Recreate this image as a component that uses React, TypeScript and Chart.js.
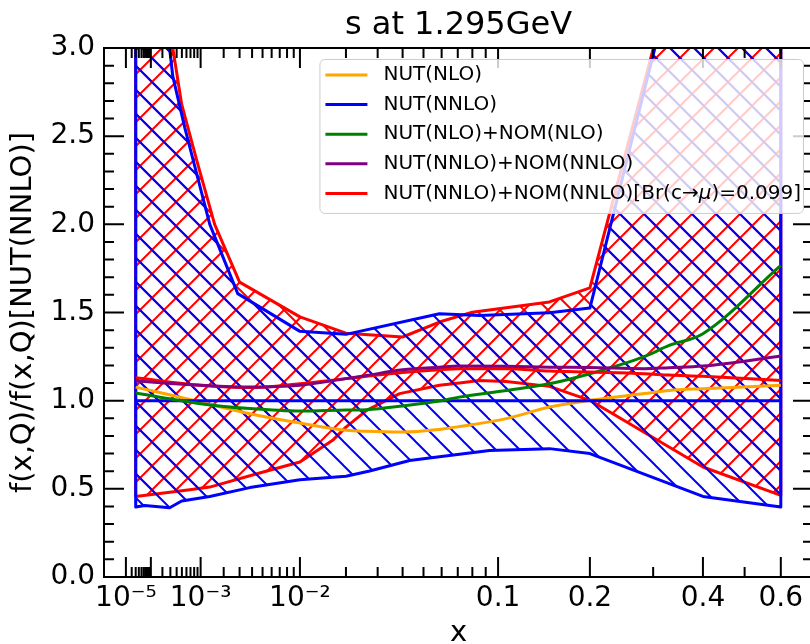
import React, { useEffect, useRef } from 'react';
import { Chart, registerables, LinearScale } from 'chart.js';

Chart.register(...registerables);

// ---------- data ----------
const TITLE = 's at 1.295GeV';
const X_TITLE = 'x';
const Y_TITLE = 'f(x,Q)/f(x,Q)[NUT(NNLO)]';

const SERIES_LABELS = [
  'NUT(NLO)',
  'NUT(NNLO)',
  'NUT(NLO)+NOM(NLO)',
  'NUT(NNLO)+NOM(NNLO)',
  'NUT(NNLO)+NOM(NNLO)[Br(c→μ)=0.099]',
];
const SERIES_COLORS = ['#FFA500', '#0000FF', '#008000', '#800080', '#FF0000'];

// x grid of the central curves
const CENTER_X = [3e-5, 1e-3, 3.8e-3, 0.01, 0.02, 0.0262, 0.04, 0.0587, 0.0711, 0.107, 0.15, 0.2, 0.284, 0.33, 0.4, 0.6];
const NUT_NLO = [1.077, 0.992, 0.926, 0.873, 0.832, 0.826, 0.822, 0.837, 0.853, 0.898, 0.964, 1.002, 1.04, 1.058, 1.068, 1.087];
const NUT_NNLO = [1, 1, 1, 1, 1, 1, 1, 1, 1, 1, 1, 1, 1, 1, 1, 1];
const NUT_NLO_NOM_NLO = [1.043, 0.983, 0.955, 0.941, 0.947, 0.949, 0.97, 0.998, 1.02, 1.058, 1.096, 1.153, 1.25, 1.313, 1.38, 1.767];
const NUT_NNLO_NOM_NNLO = [1.111, 1.087, 1.077, 1.087, 1.125, 1.143, 1.175, 1.19, 1.196, 1.195, 1.19, 1.188, 1.181, 1.187, 1.196, 1.253];
const NUT_NNLO_NOM_NNLO_BR = [1.13, 1.087, 1.074, 1.096, 1.125, 1.138, 1.16, 1.176, 1.181, 1.181, 1.168, 1.162, 1.153, 1.145, 1.138, 1.115];

// NUT(NNLO) uncertainty band (blue)
const BLUE_UP_X = [3e-5, 6.5e-5, 1.7e-4, 3.36e-4, 5.6e-4, 1.34e-3, 2.87e-3, 0.01, 0.02, 0.0587, 0.0852, 0.15, 0.2, 0.4, 0.6];
const BLUE_UP_Y = [5.0, 4.6, 3.5, 2.84, 2.55, 2.0, 1.607, 1.393, 1.376, 1.493, 1.483, 1.499, 1.525, 4.09, 5.5];
const BLUE_LO_X = [3e-5, 6.5e-5, 2.9e-4, 4.96e-4, 1.34e-3, 3.8e-3, 0.01, 0.02, 0.0272, 0.0432, 0.0587, 0.093, 0.15, 0.2, 0.4, 0.6];
const BLUE_LO_Y = [0.397, 0.406, 0.393, 0.431, 0.457, 0.507, 0.552, 0.571, 0.601, 0.661, 0.682, 0.718, 0.728, 0.7, 0.457, 0.397];

// NUT(NNLO)+NOM(NNLO)[Br] uncertainty band (red)
const RED_UP_X = [3e-5, 6.5e-5, 1.73e-4, 3.36e-4, 4.96e-4, 8.8e-4, 1.55e-3, 3.0e-3, 0.01, 0.02, 0.04, 0.0587, 0.08, 0.15, 0.2, 0.4, 0.6];
const RED_UP_Y = [5.5, 5.0, 3.6, 3.0, 2.68, 2.36, 2.0, 1.672, 1.475, 1.383, 1.361, 1.446, 1.502, 1.56, 1.64, 4.06, 5.5];
const RED_LO_X = [3e-5, 1.73e-4, 6.8e-4, 1.34e-3, 4.7e-3, 0.01, 0.0166, 0.02, 0.0262, 0.0387, 0.0587, 0.0711, 0.0852, 0.107, 0.15, 0.2, 0.4, 0.6];
const RED_LO_Y = [0.457, 0.473, 0.495, 0.51, 0.59, 0.652, 0.775, 0.85, 0.945, 1.04, 1.087, 1.1, 1.115, 1.109, 1.081, 1.002, 0.624, 0.463];

// axes
const X_MIN = 1e-8;
const X_MAX = 0.7;
const X_LABEL_VALUES = [1e-5, 1e-3, 1e-2, 0.1, 0.2, 0.4, 0.6];
const X_LABEL_TEXT = ['10⁻⁵', '10⁻³', '10⁻²', '0.1', '0.2', '0.4', '0.6'];
const X_MAJOR = [1e-5, 1e-4, 1e-3, 1e-2, 0.1, 0.2, 0.4, 0.6];
const X_MINOR = [
  2e-5, 3e-5, 4e-5, 5e-5, 6e-5, 7e-5, 8e-5, 9e-5,
  2e-4, 3e-4, 4e-4, 5e-4, 6e-4, 7e-4, 8e-4, 9e-4,
  2e-3, 3e-3, 4e-3, 5e-3, 6e-3, 7e-3, 8e-3, 9e-3,
  0.02, 0.03, 0.04, 0.05, 0.06, 0.07, 0.08, 0.09,
  0.3, 0.5,
];
const Y_MIN = 0;
const Y_MAX = 3;
const Y_MAJOR = [0, 0.5, 1.0, 1.5, 2.0, 2.5, 3.0];
const Y_MINOR = [0.1, 0.2, 0.3, 0.4, 0.6, 0.7, 0.8, 0.9, 1.1, 1.2, 1.3, 1.4, 1.6, 1.7, 1.8, 1.9, 2.1, 2.2, 2.3, 2.4, 2.6, 2.7, 2.8, 2.9];

// ---------- scale: x^0.3 axis ----------
const POWER = 0.3;
class PowerScale extends LinearScale {
  static id = 'power';
  buildTicks() {
    return X_LABEL_VALUES.map((value) => ({ value }));
  }
  getPixelForValue(value: number) {
    const t0 = Math.pow(this.min, POWER);
    const t1 = Math.pow(this.max, POWER);
    const t = Math.pow(Math.max(value, 0), POWER);
    return this.getPixelForDecimal((t - t0) / (t1 - t0));
  }
  getValueForPixel(pixel: number) {
    const t0 = Math.pow(this.min, POWER);
    const t1 = Math.pow(this.max, POWER);
    const t = t0 + this.getDecimalForPixel(pixel) * (t1 - t0);
    return Math.pow(Math.max(t, 0), 1 / POWER);
  }
}
Chart.register(PowerScale as any);

const FONT = "'DejaVu Sans'";
Chart.defaults.font.family = FONT;
Chart.defaults.color = '#000';

function makeHatch(ctx: CanvasRenderingContext2D, color: string, dirs: string[]) {
  const s = 24;
  const tile = document.createElement('canvas');
  tile.width = s;
  tile.height = s;
  const g = tile.getContext('2d')!;
  g.strokeStyle = color;
  g.lineWidth = 2;
  for (const d of dirs) {
    for (const k of [-s, 0, s]) {
      g.beginPath();
      if (d === '\\') {
        g.moveTo(-3, -3 + k);
        g.lineTo(s + 3, s + 3 + k);
      } else {
        g.moveTo(-3, s + 3 + k);
        g.lineTo(s + 3, -3 + k);
      }
      g.stroke();
    }
  }
  const p = ctx.createPattern(tile, 'repeat')!;
  try {
    p.setTransform(new DOMMatrix([1, 0, 0, 1, 8, 10]));
  } catch (e) {}
  return p;
}

function band(ux: number[], uy: number[], lx: number[], ly: number[]) {
  const pts = ux.map((x, i) => ({ x, y: uy[i] }));
  for (let i = lx.length - 1; i >= 0; i--) pts.push({ x: lx[i], y: ly[i] });
  pts.push({ x: ux[0], y: uy[0] });
  return pts;
}

function curve(ys: number[]) {
  return CENTER_X.map((x, i) => ({ x, y: ys[i] }));
}

const framePlugin = {
  id: 'frameTicks',
  afterDatasetsDraw(chart: any) {
    const { ctx, chartArea: a, scales } = chart;
    const xs = scales.x;
    const ys = scales.y;
    ctx.save();
    ctx.strokeStyle = '#000';
    ctx.lineWidth = 2;
    ctx.beginPath();
    const tick = (x1: number, y1: number, x2: number, y2: number) => {
      ctx.moveTo(x1, y1);
      ctx.lineTo(x2, y2);
    };
    X_MAJOR.forEach((v) => {
      const p = xs.getPixelForValue(v);
      tick(p, a.bottom, p, a.bottom - 20);
      tick(p, a.top, p, a.top + 20);
    });
    X_MINOR.forEach((v) => {
      const p = xs.getPixelForValue(v);
      tick(p, a.bottom, p, a.bottom - 10);
      tick(p, a.top, p, a.top + 10);
    });
    Y_MAJOR.forEach((v) => {
      const p = ys.getPixelForValue(v);
      tick(a.left, p, a.left + 20, p);
      tick(a.right, p, a.right - 20, p);
    });
    Y_MINOR.forEach((v) => {
      const p = ys.getPixelForValue(v);
      tick(a.left, p, a.left + 10, p);
      tick(a.right, p, a.right - 10, p);
    });
    ctx.stroke();
    ctx.strokeRect(a.left, a.top, a.right - a.left, a.bottom - a.top);
    ctx.restore();
  },
};

const legendPlugin = {
  id: 'boxLegend',
  afterDraw(chart: any) {
    const { ctx, chartArea: a } = chart;
    const fs = 20;
    const font = `${fs}px ${FONT}`;
    const ifont = `italic ${fs}px ${FONT}`;
    ctx.save();
    const measure = (label: string) => {
      let w = 0;
      for (const part of label.split(/(μ)/)) {
        if (!part) continue;
        ctx.font = part === 'μ' ? ifont : font;
        w += ctx.measureText(part).width;
      }
      return w;
    };
    const maxW = Math.max(...SERIES_LABELS.map(measure));
    const right = a.right - 10;
    const top = a.top + 11;
    const rowH = 29.6;
    const w = maxW + 66;
    const h = 16 + rowH * (SERIES_LABELS.length - 1) + 19.5;
    const left = right - w;
    ctx.beginPath();
    ctx.roundRect(left + 0.5, top + 0.5, w, h, 5);
    ctx.fillStyle = 'rgba(255,255,255,0.8)';
    ctx.fill();
    ctx.strokeStyle = '#cccccc';
    ctx.lineWidth = 1;
    ctx.stroke();
    SERIES_LABELS.forEach((label, i) => {
      const cy = top + 16 + i * rowH;
      ctx.beginPath();
      ctx.strokeStyle = SERIES_COLORS[i];
      ctx.lineWidth = 3;
      ctx.moveTo(left + 6, cy);
      ctx.lineTo(left + 48, cy);
      ctx.stroke();
      let x = left + 64;
      ctx.fillStyle = '#000';
      ctx.textBaseline = 'middle';
      ctx.textAlign = 'left';
      for (const part of label.split(/(μ)/)) {
        if (!part) continue;
        ctx.font = part === 'μ' ? ifont : font;
        ctx.fillText(part, x, cy);
        x += ctx.measureText(part).width;
      }
    });
    ctx.restore();
  },
};

export default function App() {
  const ref = useRef<HTMLCanvasElement>(null);
  useEffect(() => {
    const canvas = ref.current!;
    const ctx = canvas.getContext('2d')!;
    const red = SERIES_COLORS[4];
    const blue = SERIES_COLORS[1];
    const redHatch = makeHatch(ctx, red, ['/', '\\']);
    const blueHatch = makeHatch(ctx, blue, ['\\']);

    const lineDs = (label: string, ys: number[], color: string) => ({
      label,
      data: curve(ys),
      borderColor: color,
      backgroundColor: color,
      borderWidth: 3,
      pointRadius: 0,
      fill: false,
      cubicInterpolationMode: 'monotone',
      borderJoinStyle: 'round',
      clip: 0,
    });
    const bandDs = (label: string, data: any[], color: string, pattern: CanvasPattern) => ({
      label,
      data,
      borderColor: color,
      backgroundColor: pattern,
      borderWidth: 3,
      pointRadius: 0,
      fill: 'shape',
      tension: 0,
      borderJoinStyle: 'round',
      clip: 0,
    });

    const drawSeq: any[] = [
      bandDs('band red', band(RED_UP_X, RED_UP_Y, RED_LO_X, RED_LO_Y), red, redHatch),
      bandDs('band blue', band(BLUE_UP_X, BLUE_UP_Y, BLUE_LO_X, BLUE_LO_Y), blue, blueHatch),
      lineDs(SERIES_LABELS[0], NUT_NLO, SERIES_COLORS[0]),
      lineDs(SERIES_LABELS[1], NUT_NNLO, SERIES_COLORS[1]),
      lineDs(SERIES_LABELS[2], NUT_NLO_NOM_NLO, SERIES_COLORS[2]),
      lineDs(SERIES_LABELS[4], NUT_NNLO_NOM_NNLO_BR, SERIES_COLORS[4]),
      lineDs(SERIES_LABELS[3], NUT_NNLO_NOM_NNLO, SERIES_COLORS[3]),
    ];
    drawSeq.forEach((d, i) => (d.order = drawSeq.length - i));

    const chart = new Chart(canvas, {
      type: 'line',
      data: { datasets: drawSeq },
      options: {
        responsive: false,
        animation: false,
        devicePixelRatio: 1,
        events: [],
        parsing: true,
        layout: { padding: { left: 0, right: 17, top: 0, bottom: 0 } },
        plugins: {
          legend: { display: false },
          tooltip: { enabled: false },
          title: {
            display: true,
            text: TITLE,
            fullSize: false,
            color: '#000',
            font: { size: 32, weight: 'normal', family: FONT, lineHeight: 1.2 },
            padding: { top: 6, bottom: 3.6 },
          },
        },
        scales: {
          x: {
            type: 'power' as any,
            min: X_MIN,
            max: X_MAX,
            position: 'bottom',
            grid: { display: false, drawTicks: false },
            border: { display: false },
            ticks: {
              autoSkip: false,
              maxRotation: 0,
              minRotation: 0,
              padding: 5,
              color: '#000',
              font: { size: 28, family: FONT },
              callback: (_v: any, i: number) => X_LABEL_TEXT[i],
            },
            title: {
              display: true,
              text: X_TITLE,
              color: '#000',
              font: { size: 29, family: FONT, lineHeight: 0.7 },
              padding: 0,
            },
            afterFit: (s: any) => {
              s.height = 67;
            },
          } as any,
          y: {
            type: 'linear',
            min: Y_MIN,
            max: Y_MAX,
            grid: { display: false, drawTicks: false },
            border: { display: false },
            ticks: {
              stepSize: 0.5,
              padding: 9,
              color: '#000',
              font: { size: 28, family: FONT },
              callback: (v: any) => Number(v).toFixed(1),
            },
            title: {
              display: true,
              text: Y_TITLE,
              color: '#000',
              font: { size: 29, family: FONT, lineHeight: 1.2 },
              padding: { top: 6, bottom: 0 },
            },
            afterFit: (s: any) => {
              s.width = 104;
            },
          },
        },
      },
      plugins: [framePlugin, legendPlugin],
    } as any);
    return () => chart.destroy();
  }, []);

  return (
    <div
      style={{
        position: 'fixed',
        left: 0,
        top: 0,
        width: 810,
        height: 644,
        overflow: 'hidden',
        background: '#fff',
      }}
    >
      <canvas ref={ref} width={830} height={644} style={{ display: 'block', width: 830, height: 644 }} />
    </div>
  );
}
